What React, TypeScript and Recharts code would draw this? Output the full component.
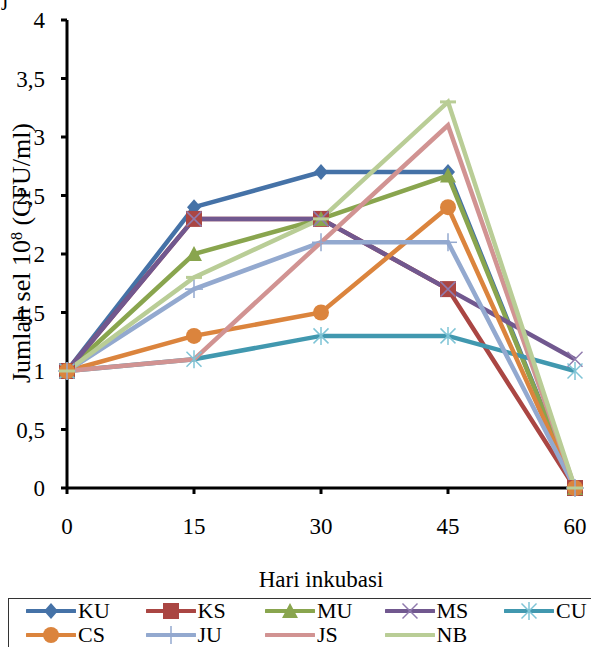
import React from 'react';
import { LineChart, Line, XAxis, YAxis, Label } from 'recharts';

const days = [0, 15, 30, 45, 60];
const KU = [1, 2.4, 2.7, 2.7, 0];
const KS = [1, 2.3, 2.3, 1.7, 0];
const MU = [1, 2.0, 2.3, 2.67, 0];
const MS = [1, 2.3, 2.3, 1.7, 1.1];
const CU = [1, 1.1, 1.3, 1.3, 1.0];
const CS = [1, 1.3, 1.5, 2.4, 0];
const JU = [1, 1.7, 2.1, 2.1, 0];
const JS = [1, 1.1, 2.1, 3.1, 0];
const NB = [1, 1.8, 2.3, 3.3, 0];

const yTicks = [0, 0.5, 1, 1.5, 2, 2.5, 3, 3.5, 4];

type Shape = 'diamond' | 'square' | 'triangle' | 'x' | 'star' | 'circle' | 'plus' | 'dash' | 'none';

const series: { name: string; values: number[]; color: string; shape: Shape }[] = [
  { name: 'KU', values: KU, color: '#4572A7', shape: 'diamond' },
  { name: 'KS', values: KS, color: '#AA4643', shape: 'square' },
  { name: 'MU', values: MU, color: '#89A54E', shape: 'triangle' },
  { name: 'MS', values: MS, color: '#71588F', shape: 'x' },
  { name: 'CU', values: CU, color: '#4198AF', shape: 'star' },
  { name: 'CS', values: CS, color: '#DB843D', shape: 'circle' },
  { name: 'JU', values: JU, color: '#93A9CF', shape: 'plus' },
  { name: 'JS', values: JS, color: '#D19392', shape: 'none' },
  { name: 'NB', values: NB, color: '#B9CD96', shape: 'dash' },
];

const data = days.map((day, i) => {
  const row: Record<string, number> = { day };
  series.forEach((s) => {
    row[s.name] = s.values[i];
  });
  return row;
});

const FONT = 'Liberation Serif';

function Marker({ shape, cx, cy, color }: { shape: Shape; cx: number; cy: number; color: string }) {
  const h = 7.5;
  switch (shape) {
    case 'diamond':
      return <polygon points={`${cx},${cy - 8} ${cx + 7},${cy} ${cx},${cy + 8} ${cx - 7},${cy}`} fill={color} />;
    case 'square':
      return <rect x={cx - 8} y={cy - 8} width={16} height={16} fill={color} />;
    case 'triangle':
      return <polygon points={`${cx},${cy - 8} ${cx + 8},${cy + 7} ${cx - 8},${cy + 7}`} fill={color} />;
    case 'circle':
      return <circle cx={cx} cy={cy} r={8} fill={color} />;
    case 'x':
      return (
        <g stroke="#8F7AAD" strokeWidth={1.5}>
          <line x1={cx - h} y1={cy - h} x2={cx + h} y2={cy + h} />
          <line x1={cx - h} y1={cy + h} x2={cx + h} y2={cy - h} />
        </g>
      );
    case 'star':
      return (
        <g stroke="#7FC4D6" strokeWidth={1.5}>
          <line x1={cx - h} y1={cy - h} x2={cx + h} y2={cy + h} />
          <line x1={cx - h} y1={cy + h} x2={cx + h} y2={cy - h} />
          <line x1={cx} y1={cy - 9} x2={cx} y2={cy + 9} />
        </g>
      );
    case 'plus':
      return (
        <g stroke={color} strokeWidth={1.5}>
          <line x1={cx - 9} y1={cy} x2={cx + 9} y2={cy} />
          <line x1={cx} y1={cy - 9} x2={cx} y2={cy + 9} />
        </g>
      );
    case 'dash':
      return <line x1={cx - 8} y1={cy} x2={cx + 8} y2={cy} stroke={color} strokeWidth={3} />;
    default:
      return null;
  }
}

function LegendBox() {
  return (
    <div
      style={{
        position: 'absolute',
        left: 8,
        top: 598,
        width: 600,
        height: 60,
        border: '1px solid #333',
        boxSizing: 'border-box',
      }}
    >
      {series.map((s, i) => {
        const col = i % 5;
        const row = Math.floor(i / 5);
        return (
          <div
            key={s.name}
            style={{
              position: 'absolute',
              left: 17 + col * 119.5,
              top: 1 + row * 24,
              display: 'flex',
              alignItems: 'center',
              height: 22,
            }}
          >
            <svg width={50} height={20}>
              <line x1={1} y1={10} x2={49} y2={10} stroke={s.color} strokeWidth={4} strokeLinecap="round" />
              <Marker shape={s.shape} cx={25} cy={10} color={s.color} />
            </svg>
            <span style={{ fontFamily: FONT, fontSize: 22, lineHeight: '22px', marginLeft: 2, color: '#000' }}>{s.name}</span>
          </div>
        );
      })}
    </div>
  );
}

export default function App() {
  return (
    <div
      style={{
        position: 'absolute',
        left: 0,
        top: 0,
        width: 591,
        height: 647,
        overflow: 'hidden',
        background: '#fff',
        fontFamily: FONT,
      }}
    >
      <div style={{ position: 'absolute', left: 2, top: -15, fontFamily: FONT, fontSize: 23 }}>j</div>
      <LineChart
        width={591}
        height={595}
        data={data}
        margin={{ top: 20, right: 16, bottom: 0, left: 0 }}
        style={{ fontFamily: FONT }}
      >
        <XAxis
          dataKey="day"
          type="number"
          domain={[0, 60]}
          ticks={days}
          height={107}
          stroke="#000"
          strokeWidth={3}
          tickSize={6}
          tickMargin={24}
          tick={{ fill: '#000', fontFamily: FONT, fontSize: 23 }}
        >
          <Label
            value="Hari inkubasi"
            position="insideBottom"
            offset={8}
            style={{ fill: '#000', fontFamily: FONT, fontSize: 23 }}
          />
        </XAxis>
        <YAxis
          type="number"
          domain={[0, 4]}
          ticks={yTicks}
          width={67}
          stroke="#000"
          strokeWidth={3}
          tickSize={6}
          tickMargin={16}
          tickFormatter={(v: number) => String(v).replace('.', ',')}
          tick={{ fill: '#000', fontFamily: FONT, fontSize: 23 }}
        >
          <Label
            content={() => (
              <text
                x={30}
                y={253}
                transform="rotate(-90 30 253)"
                textAnchor="middle"
                fontFamily={FONT}
                fontSize={26}
                fill="#000"
              >
                Jumlah sel 10<tspan baselineShift="super" fontSize={16}>8</tspan> (CFU/ml)
              </text>
            )}
          />
        </YAxis>
        {series.map((s) => (
          <Line
            key={s.name}
            dataKey={s.name}
            stroke={s.color}
            strokeWidth={4.5}
            isAnimationActive={false}
            dot={(p: any) => <Marker key={`${s.name}-${p.index}`} shape={s.shape} cx={p.cx} cy={p.cy} color={s.color} />}
            activeDot={false}
          />
        ))}
      </LineChart>
      <LegendBox />
    </div>
  );
}
